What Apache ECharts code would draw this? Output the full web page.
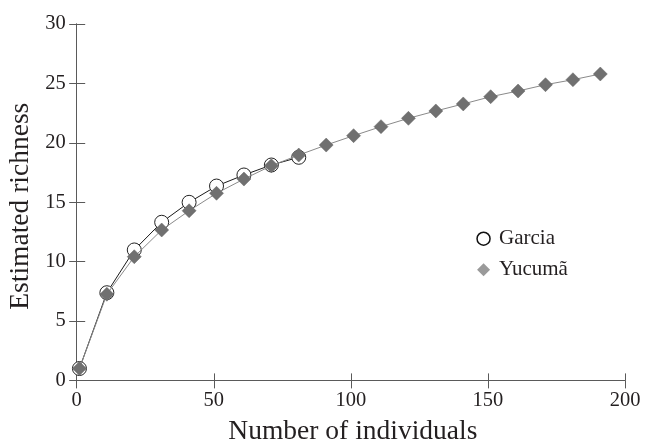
<!DOCTYPE html>
<html><head><meta charset="utf-8">
<script src="https://cdn.jsdelivr.net/npm/echarts@6/dist/echarts.min.js"></script>
<style>html,body{margin:0;padding:0;background:#fff}#c{width:645px;height:444px}</style>
</head><body><div id="c"></div>
<script>
const xGarcia = [1, 11, 21, 31, 41, 51, 61, 71, 81];
const yGarcia = [1, 7.38, 10.98, 13.31, 14.99, 16.36, 17.29, 18.13, 18.78];
const xYucuma = [1, 11, 21, 31, 41, 51, 61, 71, 81, 91, 101, 111, 121, 131, 141, 151, 161, 171, 181, 191];
const yYucuma = [1, 7.25, 10.41, 12.66, 14.28, 15.75, 16.95, 18.07, 18.97, 19.81, 20.6, 21.36, 22.06, 22.68, 23.27, 23.88, 24.36, 24.89, 25.31, 25.79];
const seriesNames = ['Garcia', 'Yucumã'];
const xTicks = [0, 50, 100, 150, 200];
const yTicks = [0, 5, 10, 15, 20, 25, 30];

const FONT = '"Liberation Serif", "Times New Roman", serif';
const TXT = '#231f20';
const chart = echarts.init(document.getElementById('c'), null, {renderer: 'canvas'});
const axisCommon = {
  axisLine: {show: true, onZero: false, lineStyle: {color: '#5a5a5a', width: 1}},
  splitLine: {show: false}
};
chart.setOption({
  animation: false,
  backgroundColor: '#fff',
  grid: {left: 76.7, right: 20, top: 24, bottom: 63.6, containLabel: false, outerBoundsMode: 'none'},
  xAxis: [{
    ...axisCommon, type: 'value', min: xTicks[0], max: xTicks[xTicks.length - 1], interval: 50,
    name: 'Number of individuals', nameLocation: 'middle', nameGap: 37,
    nameTextStyle: {fontFamily: FONT, fontSize: 27.5, color: TXT, padding: [0, 0, 0, 4]},
    axisTick: {show: true, inside: false, length: 8, lineStyle: {color: '#5a5a5a'}},
    axisLabel: {fontFamily: FONT, fontSize: 20.5, color: TXT, margin: 10}
  }, {
    ...axisCommon, type: 'value', position: 'bottom', min: xTicks[0], max: xTicks[xTicks.length - 1], interval: 50,
    axisTick: {show: true, inside: true, length: 7, lineStyle: {color: '#5a5a5a'}},
    axisLabel: {show: false}
  }],
  yAxis: [{
    ...axisCommon, type: 'value', min: yTicks[0], max: yTicks[yTicks.length - 1], interval: 5,
    name: 'Estimated richness', nameLocation: 'middle', nameGap: 37,
    nameTextStyle: {fontFamily: FONT, fontSize: 27.5, color: TXT, padding: [0, 8, 0, 0]},
    axisTick: {show: true, inside: false, length: 7.5, lineStyle: {color: '#5a5a5a'}},
    axisLabel: {fontFamily: FONT, fontSize: 20.5, color: TXT, margin: 11}
  }, {
    ...axisCommon, type: 'value', position: 'left', min: yTicks[0], max: yTicks[yTicks.length - 1], interval: 5,
    axisTick: {show: true, inside: true, length: 8.5, lineStyle: {color: '#5a5a5a'}},
    axisLabel: {show: false}
  }],
  legend: {
    orient: 'vertical', left: 471.3, top: 222.7, itemWidth: 13, itemHeight: 13, itemGap: 9,
    textStyle: {fontFamily: FONT, fontSize: 21, color: TXT, lineHeight: 22, padding: [0, 0, 0, 4]},
    data: [
      {name: seriesNames[0], icon: 'circle', itemStyle: {color: '#fff', borderColor: '#111', borderWidth: 1.5}},
      {name: seriesNames[1], icon: 'diamond', itemStyle: {color: '#9a9a9a', borderWidth: 0}}
    ]
  },
  series: [{
    name: seriesNames[0], type: 'line', xAxisIndex: 0, yAxisIndex: 0,
    data: xGarcia.map((x, i) => [x, yGarcia[i]]),
    symbol: 'circle', symbolSize: 14,
    lineStyle: {color: '#1a1a1a', width: 1},
    itemStyle: {color: '#fff', borderColor: '#222', borderWidth: 1},
    z: 2
  }, {
    name: seriesNames[1], type: 'line', xAxisIndex: 0, yAxisIndex: 0,
    data: xYucuma.map((x, i) => [x, yYucuma[i]]),
    symbol: 'diamond', symbolSize: 14,
    lineStyle: {color: '#8a8a8a', width: 1},
    itemStyle: {color: '#707070', borderColor: '#666', borderWidth: 0.5},
    z: 3
  }]
});
</script></body></html>
